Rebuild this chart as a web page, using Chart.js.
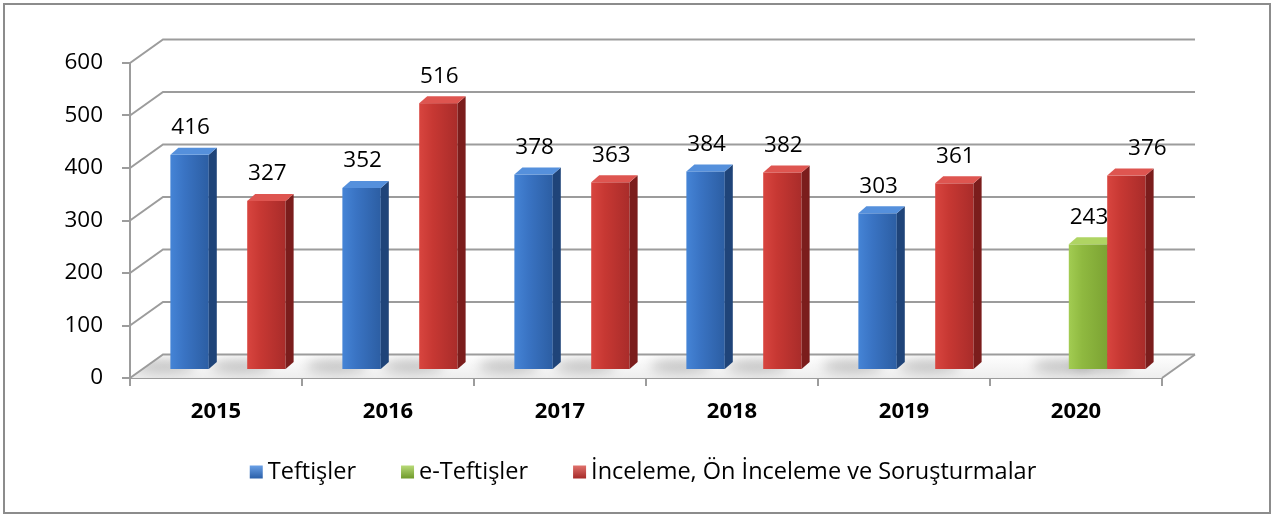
<!DOCTYPE html>
<html>
<head>
<meta charset="utf-8">
<script src="https://cdn.jsdelivr.net/npm/chart.js@4.4.1/dist/chart.umd.min.js"></script>
<style>
  html, body { margin: 0; padding: 0; background: #fff; }
  #wrap { width: 1272px; height: 516px; }
</style>
</head>
<body>
<div id="wrap"><canvas id="chart" width="1272" height="516"></canvas></div>
<script>
// --- DATA ---
const years = ['2015', '2016', '2017', '2018', '2019', '2020'];
const teftisler = [416, 352, 378, 384, 303, null];
const eTeftisler = [null, null, null, null, null, 243];
const incelemeler = [327, 516, 363, 382, 361, 376];
const yTicks = [0, 100, 200, 300, 400, 500, 600];
const seriesNames = ['Teftişler', 'e-Teftişler', 'İnceleme, Ön İnceleme ve Soruşturmalar'];

// --- STYLE ---
const FONT = "'Open Sans', 'Noto Sans', sans-serif";
const GRID = '#9c9c9c';
const palettes = [
    { front: ['#4584d6', '#3a74c4', '#2c5ea3'], side: '#1f4479', top: '#5590dc', box: ['#6aa0e6', '#2a5fa8'] },
    { front: ['#a2cc52', '#8fb940', '#7ca333'], side: '#5b7b22', top: '#afd463', box: ['#b8da78', '#6f9a2a'] },
    { front: ['#d8453f', '#c73833', '#a92c2a'], side: '#7b1d1c', top: '#de5550', box: ['#e0716c', '#a52a28'] }
];

// 3D geometry (floor depth, bar placement at mid depth, bar thickness)
const DX = 33, DY = -23.5;
const BAR_DX = 12, BAR_DY = -8, BAR_K = 0.985;
const SIDE_DX = 8, SIDE_DY = -7;
const LABEL_GAP = 27;
const labelNudge = { '2-5': 20 }; // dataset-index : x shift

function barBoxes(chart) {
    const out = [];
    chart.data.datasets.forEach((ds, di) => {
        const meta = chart.getDatasetMeta(di);
        meta.data.forEach((el, i) => {
            if (ds.data[i] == null) return;
            const base = el.base + BAR_DY;
            const top = base - (el.base - el.y) * BAR_K;
            const x0 = el.x - el.width / 2 + BAR_DX;
            const x1 = el.x + el.width / 2 + BAR_DX;
            out.push({ di, i, x0, x1, top, base, value: ds.data[i] });
        });
    });
    return out;
}

const depthPlugin = {
    id: 'depth3d',
    beforeDatasetsDraw(chart) {
        const { ctx, chartArea: { left, right, bottom }, scales: { y } } = chart;
        ctx.save();
        // floor
        ctx.beginPath();
        ctx.moveTo(left, bottom);
        ctx.lineTo(right, bottom);
        ctx.lineTo(right + DX, bottom + DY);
        ctx.lineTo(left + DX, bottom + DY);
        ctx.closePath();
        const fg = ctx.createLinearGradient(0, bottom + DY, 0, bottom);
        fg.addColorStop(0, '#ffffff');
        fg.addColorStop(1, '#eeeeee');
        ctx.fillStyle = fg;
        ctx.fill();

        // soft shadows on the floor
        ctx.save();
        ctx.clip();
        ctx.filter = 'blur(6px)';
        ctx.fillStyle = 'rgba(0,0,0,0.2)';
        barBoxes(chart).forEach(b => {
            ctx.beginPath();
            ctx.ellipse(b.x0 - 6, b.base - 3, 30, 7, 0, 0, Math.PI * 2);
            ctx.fill();
        });
        ctx.restore();

        // back wall gridlines + left diagonals
        ctx.strokeStyle = GRID;
        ctx.lineWidth = 2;
        yTicks.forEach(v => {
            const yf = y.getPixelForValue(v);
            ctx.beginPath();
            ctx.moveTo(left, yf);
            ctx.lineTo(left + DX, yf + DY);
            ctx.lineTo(right + DX, yf + DY);
            ctx.stroke();
        });
        // floor right edge
        ctx.beginPath();
        ctx.moveTo(right, bottom);
        ctx.lineTo(right + DX, bottom + DY);
        ctx.stroke();
        ctx.restore();
    },
    afterDatasetsDraw(chart) {
        const { ctx } = chart;
        const boxes = barBoxes(chart).sort((a, b) => a.i - b.i || a.di - b.di);
        ctx.save();
        boxes.forEach(b => {
            const pal = palettes[b.di];
            const w = b.x1 - b.x0;
            // front face
            const g = ctx.createLinearGradient(b.x0, 0, b.x1, 0);
            g.addColorStop(0, pal.front[0]);
            g.addColorStop(0.35, pal.front[1]);
            g.addColorStop(1, pal.front[2]);
            ctx.fillStyle = g;
            ctx.fillRect(b.x0, b.top, w, b.base - b.top);
            // side face
            ctx.beginPath();
            ctx.moveTo(b.x1, b.top);
            ctx.lineTo(b.x1 + SIDE_DX, b.top + SIDE_DY);
            ctx.lineTo(b.x1 + SIDE_DX, b.base + SIDE_DY);
            ctx.lineTo(b.x1, b.base);
            ctx.closePath();
            ctx.fillStyle = pal.side;
            ctx.fill();
            // top face
            ctx.beginPath();
            ctx.moveTo(b.x0, b.top);
            ctx.lineTo(b.x0 + SIDE_DX, b.top + SIDE_DY);
            ctx.lineTo(b.x1 + SIDE_DX, b.top + SIDE_DY);
            ctx.lineTo(b.x1, b.top);
            ctx.closePath();
            ctx.fillStyle = pal.top;
            ctx.fill();
        });

        // value labels
        ctx.font = `22.5px ${FONT}`;
        ctx.fillStyle = '#000';
        ctx.textAlign = 'center';
        ctx.textBaseline = 'middle';
        boxes.forEach(b => {
            const nudge = labelNudge[`${b.di}-${b.i}`] || 0;
            ctx.fillText(String(b.value), (b.x0 + b.x1) / 2 + 1 + nudge, b.top - LABEL_GAP);
        });
        ctx.restore();
    },
    afterDraw(chart) {
        const { ctx } = chart;
        ctx.save();
        // legend
        ctx.font = `23.5px ${FONT}`;
        ctx.textBaseline = 'middle';
        ctx.textAlign = 'left';
        const boxS = 13, boxGap = 5, itemGap = 45;
        const widths = seriesNames.map(t => ctx.measureText(t).width);
        const total = widths.reduce((s, w) => s + boxS + boxGap + w, 0) + itemGap * (seriesNames.length - 1);
        let x = (chart.width - total) / 2 + 7;
        const yc = 472;
        seriesNames.forEach((name, k) => {
            const pal = palettes[k];
            const bg = ctx.createLinearGradient(0, yc - boxS / 2, 0, yc + boxS / 2);
            bg.addColorStop(0, pal.box[0]);
            bg.addColorStop(1, pal.box[1]);
            ctx.fillStyle = bg;
            ctx.fillRect(x, yc - boxS / 2, boxS, boxS);
            ctx.fillStyle = '#000';
            ctx.fillText(name, x + boxS + boxGap, yc);
            x += boxS + boxGap + widths[k] + itemGap;
        });
        // outer frame
        ctx.strokeStyle = '#8c8c8c';
        ctx.lineWidth = 2;
        ctx.strokeRect(4, 4, chart.width - 6, chart.height - 7);
        ctx.restore();
    }
};

const bgPlugin = {
    id: 'whiteBg',
    beforeDraw(chart) {
        const { ctx } = chart;
        ctx.save();
        ctx.fillStyle = '#fff';
        ctx.fillRect(0, 0, chart.width, chart.height);
        ctx.restore();
    }
};

new Chart(document.getElementById('chart'), {
    type: 'bar',
    data: {
        labels: years,
        datasets: [teftisler, eTeftisler, incelemeler].map((d, k) => ({
            label: seriesNames[k],
            data: d,
            backgroundColor: 'rgba(0,0,0,0)',
            borderWidth: 0,
            categoryPercentage: 0.67,
            barPercentage: 1.0
        }))
    },
    options: {
        responsive: false,
        animation: false,
        layout: { padding: { top: 63, right: 110, bottom: 78, left: 0 } },
        plugins: {
            legend: { display: false },
            tooltip: { enabled: false }
        },
        scales: {
            x: {
                grid: { drawOnChartArea: false, offset: true, tickLength: 8, color: GRID, lineWidth: 2 },
                border: { color: GRID, width: 2 },
                ticks: { font: { family: FONT, size: 22, weight: 'bold' }, color: '#000', padding: 13 },
                afterFit: s => { s.height = 60; }
            },
            y: {
                min: 0,
                max: 600,
                afterBuildTicks: s => { s.ticks = yTicks.map(v => ({ value: v })); },
                grid: { drawOnChartArea: false, tickLength: 8, color: GRID, lineWidth: 2 },
                border: { color: GRID, width: 2 },
                ticks: { font: { family: FONT, size: 22.5 }, color: '#000', padding: 19 },
                afterFit: s => { s.width = 130; }
            }
        }
    },
    plugins: [bgPlugin, depthPlugin]
});
</script>
</body>
</html>
